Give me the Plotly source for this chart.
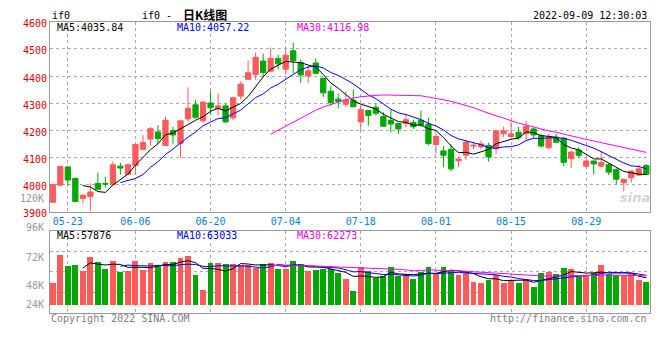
import plotly.graph_objects as go
import pandas as pd

# ---------------- data ----------------
opens = [3935, 3998, 4065, 4023, 3949, 3956, 4004, 4004, 4001, 4068,
         4037, 4070, 4130, 4168, 4194, 4144, 4199, 4152, 4242, 4294,
         4235, 4301, 4279, 4290, 4246, 4326, 4388, 4406, 4455, 4418,
         4465, 4425, 4493, 4449, 4400, 4448, 4392, 4344, 4315, 4296,
         4311, 4231, 4273, 4285, 4251, 4237, 4225, 4225, 4229, 4237,
         4223, 4148, 4124, 4130, 4088, 4108, 4142, 4139, 4144, 4132,
         4187, 4177, 4193, 4187, 4205, 4180, 4136, 4175, 4171, 4096,
         4127, 4068, 4087, 4068, 4073, 4055, 4007, 4025, 4035, 4070]
highs = [4001, 4070, 4067, 4026, 3965, 4005, 4044, 4029, 4086, 4080,
         4077, 4150, 4183, 4212, 4219, 4251, 4213, 4235, 4358, 4312,
         4306, 4344, 4335, 4299, 4325, 4380, 4457, 4487, 4483, 4505,
         4479, 4499, 4523, 4461, 4439, 4465, 4393, 4362, 4335, 4344,
         4350, 4294, 4274, 4299, 4267, 4276, 4226, 4261, 4239, 4273,
         4246, 4189, 4142, 4148, 4104, 4160, 4157, 4162, 4154, 4201,
         4213, 4231, 4213, 4235, 4211, 4187, 4187, 4187, 4175, 4124,
         4139, 4100, 4088, 4124, 4079, 4061, 4023, 4052, 4073, 4076]
lows = [3934, 3995, 3996, 3936, 3931, 3902, 3982, 3989, 3999, 4037,
        4035, 4037, 4127, 4144, 4151, 4142, 4151, 4100, 4231, 4243,
        4228, 4257, 4255, 4227, 4237, 4314, 4386, 4386, 4398, 4415,
        4425, 4406, 4410, 4374, 4374, 4406, 4323, 4290, 4281, 4287,
        4285, 4199, 4217, 4255, 4213, 4192, 4187, 4211, 4205, 4213,
        4144, 4115, 4064, 4049, 4064, 4090, 4130, 4130, 4085, 4112,
        4175, 4177, 4165, 4160, 4171, 4136, 4130, 4154, 4068, 4061,
        4098, 4061, 4038, 4064, 4035, 4001, 3975, 4008, 4032, 4035]
closes = [4000, 4067, 4017, 3938, 3961, 3973, 3983, 4002, 4073, 4061,
          4073, 4148, 4155, 4206, 4170, 4237, 4183, 4235, 4281, 4248,
          4304, 4283, 4290, 4231, 4320, 4370, 4412, 4469, 4413, 4465,
          4445, 4477, 4457, 4404, 4419, 4410, 4338, 4302, 4306, 4312,
          4287, 4276, 4255, 4263, 4215, 4223, 4205, 4239, 4213, 4219,
          4151, 4177, 4108, 4058, 4094, 4157, 4145, 4150, 4102, 4198,
          4198, 4187, 4174, 4215, 4183, 4142, 4175, 4156, 4082, 4120,
          4108, 4087, 4076, 4082, 4046, 4020, 4019, 4050, 4058, 4038]
volumes = [47900, 107700, 84800, 86900, 72300, 103500, 93100, 76500, 95200, 70200,
           72300, 95200, 74400, 91000, 84800, 93100, 93100, 101500, 105600, 64000,
           32700, 91000, 91000, 89000, 89000, 86900, 86900, 80600, 89000, 91000,
           78500, 76500, 95200, 89000, 72300, 74400, 76500, 77500, 68800, 55600,
           31300, 81300, 72300, 58400, 61900, 81300, 61900, 66000, 57000, 70900,
           82700, 66000, 82700, 74400, 64000, 68800, 50000, 47900, 53500, 64000,
           47900, 53500, 47900, 57000, 39600, 68800, 70900, 66000, 79200, 76500,
           59800, 64000, 68800, 86900, 66000, 64000, 61900, 66000, 53500, 50000]
date_labels = ["05-23", "06-06", "06-20", "07-04", "07-18", "08-01", "08-15", "08-29"]
date_index = [2, 11, 21, 31, 41, 51, 61, 71]
price_ticks = [3900, 4000, 4100, 4200, 4300, 4400, 4500, 4600]
vol_labels = ["96K", "72K", "48K", "24K"]

# ---------------- derived ----------------
idx = list(range(len(closes)))
cs = pd.Series(closes, dtype=float)
vs = pd.Series(volumes, dtype=float)
ma = {n: cs.rolling(n).mean().tolist() for n in (5, 10, 30)}
vma = {n: vs.rolling(n).mean().tolist() for n in (5, 10, 30)}

RED = "#ff5a5a"
GREEN = "#00a800"
MA_COLORS = {5: "#000000", 10: "#0000ff", 30: "#ff00ff"}
MONO = "DejaVu Sans Mono"
W, H = 660, 360


def px(x):
    return x / W


def py(y):
    return 1 - y / H


fig = go.Figure()
fig.add_trace(go.Candlestick(
    x=idx, open=opens, high=highs, low=lows, close=closes,
    increasing=dict(line=dict(color=RED, width=1), fillcolor=RED),
    decreasing=dict(line=dict(color=GREEN, width=1), fillcolor=GREEN),
    whiskerwidth=0, xaxis="x", yaxis="y", hoverinfo="skip"))
for n in (5, 10, 30):
    fig.add_trace(go.Scatter(x=idx, y=ma[n], mode="lines",
                             line=dict(color=MA_COLORS[n], width=1),
                             xaxis="x", yaxis="y", hoverinfo="skip"))

bar_colors = [RED if c >= o else GREEN for o, c in zip(opens, closes)]
fig.add_trace(go.Bar(x=idx, y=volumes, width=0.78, marker=dict(color=bar_colors, line=dict(width=0)),
                     xaxis="x2", yaxis="y2", hoverinfo="skip"))
for n in (5, 10, 30):
    fig.add_trace(go.Scatter(x=idx, y=vma[n], mode="lines",
                             line=dict(color=MA_COLORS[n], width=1),
                             xaxis="x2", yaxis="y2", hoverinfo="skip"))

xr = [-0.37, 79.49]
vol_range = [-15833, 159167]
span = vol_range[1] - vol_range[0]
vol_grid = [vol_range[1] - span * k / 4 for k in (1, 2, 3)]

grid = dict(showgrid=True, gridcolor="#aaaaaa", gridwidth=1, griddash="dot",
            showline=True, mirror=True, linecolor="#999999", linewidth=1,
            zeroline=False, ticks="")

fig.update_layout(
    width=W, height=H, margin=dict(l=0, r=0, t=0, b=0),
    paper_bgcolor="white", plot_bgcolor="white", showlegend=False,
    boxgap=0.3, boxgroupgap=0, bargap=0,
    xaxis=dict(domain=[px(50), px(650)], range=xr, anchor="y",
               tickmode="array", tickvals=date_index, ticktext=date_labels,
               tickfont=dict(family=MONO, size=10, color="#0b7fd3"),
               rangeslider=dict(visible=False), **grid),
    yaxis=dict(domain=[py(214.3), py(18.3)], range=[3900, 4600], anchor="x",
               tickmode="array", tickvals=price_ticks, ticktext=[str(v) for v in price_ticks],
               tickfont=dict(family=MONO, size=10, color="#e00000"),
               ticklabelshift=2, **grid),
    xaxis2=dict(domain=[px(50), px(650)], range=xr, anchor="y2",
                tickmode="array", tickvals=date_index, showticklabels=False, **grid),
    yaxis2=dict(domain=[py(318.3), py(234.3)], range=vol_range, anchor="x2",
                tickmode="array", tickvals=vol_grid, showticklabels=False, **grid),
)

anns = []


def ann(text, x, y, color="#000000", size=10, xanchor="left", family=MONO, **kw):
    anns.append(dict(text=text, x=px(x), y=py(y), xref="paper", yref="paper",
                     xanchor=xanchor, yanchor="middle", showarrow=False,
                     font=dict(family=family, size=size, color=color), **kw))


ann("if0", 50, 12)
ann("if0 -", 140, 12)
ann("<b>日K线图</b>", 181, 10.5, size=12, family="Noto Sans CJK SC")
ann("2022-09-09 12:30:03", 649, 12, xanchor="right")
ann("MA5:4035.84", 55, 24)
ann("MA10:4057.22", 175, 24, color="#0000ee")
ann("MA30:4116.98", 295, 24, color="#ee00ee")
ann("120K", 46, 200.5, color="#999999", xanchor="right")
ann("MA5:57876", 55, 239)
ann("MA10:63033", 175, 239, color="#0000ee")
ann("MA30:62273", 295, 239, color="#ee00ee")
for t, yy in zip(vol_labels, [230.7, 261, 290, 310.3]):
    ann(t, 46, yy, color="#999999", xanchor="right")
ann("Copyright 2022 SINA.COM", 49, 324, color="#808080")
ann("http://finance.sina.com.cn", 649, 324, color="#808080", xanchor="right")
ann("<b><i>sina</i></b>", 652, 200, color="#d4d4d4", size=13, xanchor="right", family="DejaVu Sans")
fig.update_layout(annotations=anns)

fig.write_html("out.html", config={"displayModeBar": False},
               post_script="document.body.style.margin='0px';document.body.style.padding='0px';")
